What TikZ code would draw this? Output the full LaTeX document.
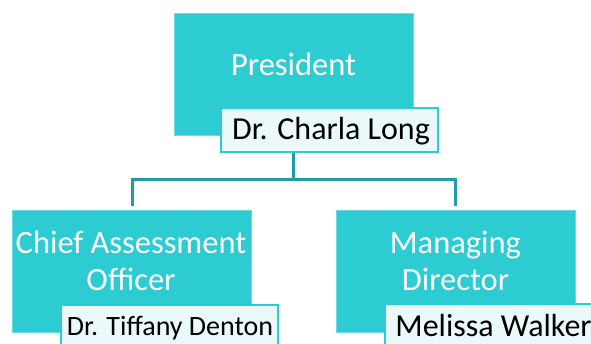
\documentclass[tikz,border=0pt]{standalone}
\usepackage{fontspec}
\setmainfont{Carlito}
\usepackage{tikz}
\usetikzlibrary{calc,positioning,backgrounds}
\definecolor{boxcyan}{HTML}{2DCBD2}
\definecolor{linkteal}{HTML}{1E9DA3}
\definecolor{namefill}{HTML}{EBF9FA}

\begin{document}
\begin{tikzpicture}[x=1pt,y=-1pt,
		rolebox/.style={shape=rectangle,fill=boxcyan,draw=boxcyan!70!white,line width=0.8pt,minimum width=239pt,minimum height=122pt,inner sep=0pt},
		namebox/.style={shape=rectangle,fill=namefill,draw=boxcyan,line width=2pt,minimum width=217pt,minimum height=44pt,inner sep=0pt},
		roletext/.style={text=white,font=\fontsize{32.5}{37}\selectfont,align=center,anchor=base},
		nametext/.style={text=black,font=\fontsize{32}{38}\selectfont,anchor=base}]
		\useasboundingbox (0,0) rectangle (591,343);
		\clip (0,0) rectangle (591,343);
		\node(pres) [rolebox] at (293.5,74) {};
		\node(pres-t) [roletext] at (293.5,75) {President};
		\node(long) [namebox] at (329.5,130) {};
		\node(long-t) [nametext] at (331,139) {Dr. Charla Long};
		\node(cao) [rolebox] at (132,271.5) {};
		\node(cao-t) [roletext] at (131,290) {Chief Assessment\\Officer};
		\node(denton) [namebox] at (169,327) {};
		\node(denton-t) [nametext,font=\fontsize{28}{34}\selectfont] at (170,335) {Dr. Tiffany Denton};
		\node(md) [rolebox] at (455.5,271.5) {};
		\node(md-t) [roletext] at (455.5,290) {Managing\\Director};
		\node(walker) [namebox] at (493.5,326) {};
		\node(walker-t) [nametext] at (493.5,336) {Melissa Walker};
		\coordinate (bus) at (293.5,179);
		\begin{scope}[on background layer]
			\draw[linkteal,line width=3pt,shorten >=4pt] (pres.south) -- (pres.south |- bus) -| (cao.north);
			\draw[linkteal,line width=3pt,shorten >=4pt] (pres.south |- bus) -| (md.north);
		\end{scope}
	\end{tikzpicture}
\end{document}
